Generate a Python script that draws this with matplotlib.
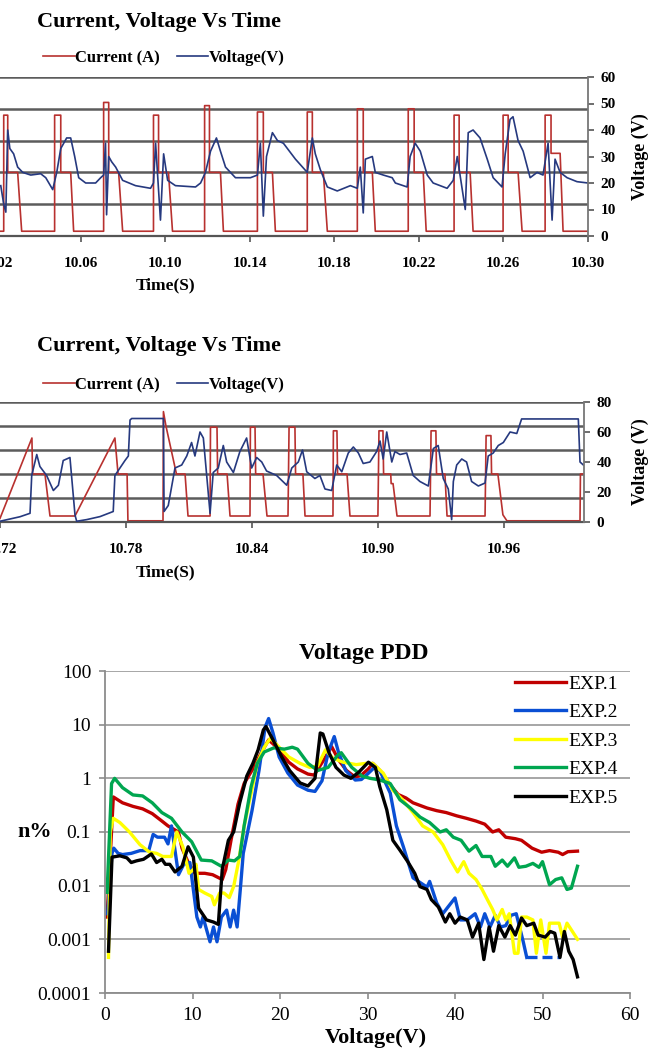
import numpy as np
import matplotlib.pyplot as plt
from matplotlib.lines import Line2D

plt.rcParams['font.family'] = ['Liberation Serif', 'DejaVu Serif']

W, H = 662, 1054
RED = '#b8312f'
NAVY = '#26397f'
GRID = '#5c5c5c'

# ---------- chart 1 : current / voltage, 10.02 - 10.30 s ----------
t1_ticks = [10.02, 10.06, 10.10, 10.14, 10.18, 10.22, 10.26, 10.30]
v1_ticks = [0, 10, 20, 30, 40, 50, 60]

# one row per current pulse
pulse1_on = [10.0236, 10.0477, 10.0709, 10.0945, 10.1187, 10.1437,
             10.1673, 10.1910, 10.2151, 10.2368, 10.2600, 10.2799]
pulse1_off = [10.0255, 10.0506, 10.0733, 10.0969, 10.1210, 10.1465,
              10.1697, 10.1938, 10.2179, 10.2392, 10.2624, 10.2827]
pulse1_plateau_end = [10.0302, 10.0553, 10.0780, 10.1016, 10.1262, 10.1508,
                      10.1749, 10.1981, 10.2222, 10.2444, 10.2671, 10.2870]
pulse1_tail_end = [10.0321, 10.0567, 10.0799, 10.1035, 10.1276, 10.1522,
                   10.1768, 10.1995, 10.2236, 10.2458, 10.2690, 10.2884]
pulse1_peak = [38, 38, 42, 38, 41, 39, 39, 40, 40, 38, 38, 38]
pulse1_plateau = [20, 20, 20, 20, 20, 20, 20, 20, 20, 20, 20, 26]
current1_base = 1.5
t1_start, t1_end = 10.0190, 10.3002

t1_volt = [10.0222, 10.0236, 10.0246, 10.0255, 10.0265, 10.0283, 10.0302, 10.0326,
           10.0364, 10.0411, 10.0435, 10.0468, 10.0487, 10.0506, 10.0534, 10.0553,
           10.0572, 10.0591, 10.0624, 10.0671, 10.0695, 10.0709, 10.0718, 10.0723,
           10.0733, 10.0747, 10.0766, 10.0799, 10.0860, 10.0931, 10.0945, 10.0955,
           10.0978, 10.0993, 10.1012, 10.1049, 10.1144, 10.1168, 10.1191, 10.1215,
           10.1243, 10.1262, 10.1286, 10.1333, 10.1404, 10.1437, 10.1451, 10.1465,
           10.1480, 10.1508, 10.1532, 10.1560, 10.1617, 10.1673, 10.1697, 10.1711,
           10.1735, 10.1768, 10.1815, 10.1877, 10.1910, 10.1924, 10.1938, 10.1948,
           10.1981, 10.1995, 10.2033, 10.2075, 10.2090, 10.2146, 10.2160, 10.2184,
           10.2208, 10.2241, 10.2269, 10.2335, 10.2364, 10.2383, 10.2421, 10.2435,
           10.2458, 10.2491, 10.2525, 10.2553, 10.2595, 10.2610, 10.2633, 10.2647,
           10.2671, 10.2695, 10.2728, 10.2761, 10.2789, 10.2813, 10.2832, 10.2846,
           10.2870, 10.2903, 10.2950, 10.3002]
v1_volt = [19, 12, 9, 40, 33, 31, 26, 24,
           23, 23.5, 22, 17.5, 24, 33, 37, 37,
           30, 22, 20, 20, 22, 23, 35, 8,
           30, 28, 26, 21, 19, 18, 20, 35,
           6, 31, 21, 19, 18.5, 20, 24, 32,
           37, 32, 26, 22, 22, 23, 35, 7.5,
           30, 39, 36, 35, 29, 24, 37, 31,
           25, 18.5, 17, 19, 18, 26, 8.7, 29,
           30, 24, 23, 22, 20, 18.5, 30, 35,
           32, 23, 20, 18, 21, 30, 10, 39,
           40, 37, 29, 22, 18.5, 31, 44, 45,
           36, 32, 22, 24, 23, 35, 6, 29,
           24, 22, 20.5, 20]

# ---------- chart 2 : current / voltage, 10.72 - 11.00 s ----------
t2_ticks = [10.72, 10.78, 10.84, 10.90, 10.96]
v2_ticks = [0, 20, 40, 60, 80]

t2_cur = [10.7200, 10.7352, 10.7355, 10.7414, 10.7438, 10.7557, 10.7747, 10.7762,
          10.7805, 10.7809, 10.7976, 10.7978, 10.7990, 10.8040, 10.8081, 10.8095,
          10.8200, 10.8202, 10.8233, 10.8236, 10.8281, 10.8295, 10.8390, 10.8392,
          10.8414, 10.8417, 10.8452, 10.8471, 10.8571, 10.8576, 10.8604, 10.8607,
          10.8642, 10.8652, 10.8785, 10.8787, 10.8804, 10.8807, 10.8852, 10.8866,
          10.8999, 10.9004, 10.9023, 10.9026, 10.9060, 10.9062, 10.9071, 10.9090,
          10.9247, 10.9252, 10.9275, 10.9278, 10.9318, 10.9328, 10.9509, 10.9514,
          10.9537, 10.9540, 10.9570, 10.9594, 10.9613, 10.9961, 10.9963, 10.9977]
i2_cur = [1.5, 35, 20, 20, 2.5, 2.5, 35, 20,
          20, 0.5, 0.5, 46, 40, 20, 20, 2.5,
          2.5, 39.5, 39.5, 20, 20, 2.5, 2.5, 39.5,
          39.5, 20, 20, 2.5, 2.5, 39.5, 39.5, 20,
          20, 2.5, 2.5, 38, 38, 20, 20, 2.5,
          2.5, 38, 38, 20, 20, 16, 16, 2.5,
          2.5, 38, 38, 20, 20, 2.5, 2.5, 36,
          36, 20, 20, 3, 0.5, 0.5, 20, 20]

t2_volt = [10.7200, 10.7295, 10.7343, 10.7351, 10.7375, 10.7390, 10.7422, 10.7454,
           10.7478, 10.7501, 10.7533, 10.7557, 10.7565, 10.7613, 10.7676, 10.7739,
           10.7747, 10.7771, 10.7795, 10.7811, 10.7819, 10.7827, 10.7978, 10.7981,
           10.8001, 10.8033, 10.8065, 10.8089, 10.8112, 10.8128, 10.8152, 10.8168,
           10.8200, 10.8215, 10.8239, 10.8263, 10.8279, 10.8311, 10.8342, 10.8374,
           10.8398, 10.8422, 10.8446, 10.8469, 10.8517, 10.8565, 10.8589, 10.8620,
           10.8640, 10.8660, 10.8699, 10.8723, 10.8747, 10.8779, 10.8803, 10.8827,
           10.8858, 10.8882, 10.8906, 10.8929, 10.8961, 10.8993, 10.9009, 10.9024,
           10.9041, 10.9065, 10.9080, 10.9104, 10.9136, 10.9167, 10.9199, 10.9239,
           10.9263, 10.9286, 10.9310, 10.9334, 10.9350, 10.9358, 10.9374, 10.9398,
           10.9421, 10.9445, 10.9477, 10.9509, 10.9524, 10.9548, 10.9572, 10.9596,
           10.9628, 10.9660, 10.9683, 10.9953, 10.9961, 10.9977]
v2_volt = [0.5, 3.5, 5.8, 31, 45, 37, 31, 21,
           24.5, 41, 43, 4.7, 0.5, 1.6, 3.6, 7,
           31, 36, 41, 44, 68, 69, 69, 7,
           11, 36, 38, 44, 53, 44, 60, 56,
           5.8, 33, 36, 51, 40, 33, 47, 56,
           36, 43, 40, 34, 31, 24.5, 36, 40,
           48, 33.5, 29, 31, 22, 21, 38, 33.5,
           46, 50, 46, 39, 40, 47, 54, 42,
           60, 40, 47, 45, 46, 31, 27, 24,
           49, 51, 29, 22, 1.6, 27, 38, 42,
           40, 27, 24, 26, 44, 46, 51, 53,
           60, 59, 68.7, 68.7, 40, 38]

# ---------- chart 3 : Voltage PDD ----------
pdd_labels = ['EXP.1', 'EXP.2', 'EXP.3', 'EXP.4', 'EXP.5']
pdd_colors = ['#c00000', '#0a4fd4', '#ffff00', '#00a650', '#000000']
pdd_yticks = [0.0001, 0.001, 0.01, 0.1, 1, 10, 100]
pdd_yticklabels = ['0.0001', '0.001', '0.01', '0.1', '1', '10', '100']

exp1_v = [0.24, 0.95, 2.0, 3.2, 4.3, 5.4, 6.5, 7.2, 8.4, 8.8, 9.6, 10.3, 11.4, 12.3, 13.4,
          13.8, 14.4, 15.2, 15.9, 17.0, 17.9, 18.7, 19.8, 21.0, 22.0, 23.2, 23.9, 25.0,
          25.9, 26.7, 27.6, 28.6, 29.3, 30.1, 30.6, 31.4, 32.6, 33.5, 34.4, 35.2, 36.8,
          37.9, 39.0, 40.2, 41.3, 42.4, 43.4, 44.3, 45.0, 45.8, 46.9, 47.6, 48.8, 49.9,
          50.8, 51.8, 52.3, 52.9, 54.0]
exp1_n = [0.0026, 0.45, 0.35, 0.3, 0.27, 0.22, 0.16, 0.13, 0.1, 0.05, 0.025, 0.017, 0.017,
          0.016, 0.013, 0.02, 0.07, 0.33, 0.8, 1.6, 3.1, 5.2, 3.6, 2.0, 1.5, 1.2, 1.15, 2.2,
          3.9, 2.2, 1.4, 1.05, 1.15, 1.5, 1.9, 1.4, 0.75, 0.5, 0.43, 0.35, 0.28, 0.25, 0.23,
          0.2, 0.18, 0.16, 0.14, 0.1, 0.11, 0.08, 0.075, 0.07, 0.05, 0.042, 0.045, 0.042,
          0.038, 0.043, 0.044]

exp2_v = [0.3, 0.8, 1, 1.5, 2, 3, 4, 5, 5.5, 6, 6.8, 7.2, 7.6, 8.4, 9, 9.7, 10.5, 10.9,
          11.2, 12, 12.4, 12.8, 13.3, 13.9, 14.3, 14.7, 15.1, 15.5, 15.8, 16.8, 17.6, 18.3,
          18.7, 19.2, 19.9, 20.9, 22, 23.2, 24, 24.8, 25.5, 26.2, 26.7, 27.5, 28.6, 29.3,
          30, 30.8, 31.4, 32.6, 33.3, 34.1, 35.2, 36.8, 37.1, 37.9, 38.6, 40, 40.6, 41.4,
          42.3, 42.9, 43.4, 44, 44.6, 45.2, 45.8, 46.4, 47, 47.8, 48.2]
exp2_n = [0.003, 0.04, 0.05, 0.04, 0.038, 0.04, 0.045, 0.045, 0.09, 0.08, 0.08, 0.06, 0.13,
          0.016, 0.025, 0.027, 0.0026, 0.0017, 0.0026, 0.0009, 0.0017, 0.0009, 0.0026,
          0.0035, 0.0017, 0.0035, 0.0017, 0.01, 0.04, 0.25, 1.4, 9, 13, 7, 2.5, 1.25, 0.75,
          0.6, 0.57, 0.9, 3, 6, 3, 1.4, 0.93, 0.95, 1.2, 1.6, 1.4, 0.53, 0.13, 0.053, 0.014,
          0.0094, 0.012, 0.0048, 0.003, 0.0059, 0.0023, 0.0023, 0.003, 0.0017, 0.003,
          0.0017, 0.0028, 0.0017, 0.0018, 0.0028, 0.003, 0.0009, 0.00046]
exp2_tail_v = [48.2, 52.0]
exp2_tail_n = [0.00046, 0.00046]

exp3_v = [0.4, 0.6, 0.95, 1.7, 2.8, 4.0, 5.1, 5.9, 6.6, 7.6, 8.2, 8.9, 9.6, 10.1, 10.4,
          10.7, 11.4, 12.2, 12.5, 13.1, 13.6, 14.2, 14.7, 15.3, 15.9, 16.7, 17.4, 18.2,
          18.9, 19.9, 21.0, 22.3, 23.4, 24.3, 25.2, 26.0, 27.2, 28.7, 29.8, 30.6, 31.8,
          32.9, 34.0, 35.2, 36.3, 37.5, 38.6, 39.5, 40.3, 41.0, 41.6, 42.4, 43.1, 43.7,
          44.3, 44.8, 45.4, 45.8, 46.2, 46.8, 47.2, 47.6, 48.2, 48.9, 49.3, 49.8, 50.4,
          50.8, 51.9, 52.3, 52.8, 54.0]
exp3_n = [0.00046, 0.1, 0.18, 0.15, 0.1, 0.058, 0.042, 0.04, 0.035, 0.035, 0.1, 0.053,
          0.017, 0.02, 0.025, 0.0085, 0.0073, 0.0063, 0.0044, 0.0073, 0.0073, 0.006, 0.0096,
          0.03, 0.13, 0.53, 1.9, 3.8, 5.6, 3.8, 2.5, 1.9, 1.6, 1.7, 3.4, 2.4, 2.0, 1.8, 1.9,
          1.9, 1.25, 0.6, 0.4, 0.23, 0.13, 0.1, 0.058, 0.03, 0.018, 0.028, 0.017, 0.013,
          0.0085, 0.0055, 0.0036, 0.0023, 0.0036, 0.0023, 0.003, 0.00055, 0.00055, 0.0026,
          0.0026, 0.0023, 0.00055, 0.0023, 0.00055, 0.002, 0.002, 0.0011, 0.002, 0.001]

exp4_v = [0.24, 0.75, 1.1, 2.0, 3.2, 4.3, 5.4, 6.5, 7.6, 8.8, 9.9, 11.0, 12.2, 13.3, 14.1,
          14.8, 15.4, 15.9, 16.7, 17.4, 18.2, 19.3, 20.5, 21.4, 22.0, 23.2, 24.3, 25.5,
          26.6, 27.0, 28.2, 29.4, 30.3, 31.4, 32.6, 33.7, 34.9, 36.0, 37.1, 38.3, 39.0,
          39.8, 40.7, 41.6, 42.4, 43.1, 44.1, 44.6, 45.4, 46.0, 46.8, 47.3, 48.1, 48.9,
          49.6, 50.0, 50.8, 51.5, 52.2, 52.8, 53.3, 54.0]
exp4_n = [0.0075, 0.8, 1.0, 0.67, 0.49, 0.47, 0.35, 0.23, 0.18, 0.1, 0.066, 0.03, 0.029,
          0.023, 0.03, 0.029, 0.035, 0.13, 0.7, 1.9, 3.1, 3.7, 3.5, 3.8, 3.5, 1.9, 1.4, 1.6,
          2.7, 3.0, 1.6, 1.1, 1.0, 0.93, 0.8, 0.4, 0.28, 0.19, 0.15, 0.1, 0.11, 0.08, 0.07,
          0.044, 0.056, 0.035, 0.035, 0.023, 0.03, 0.023, 0.033, 0.022, 0.023, 0.026, 0.022,
          0.028, 0.0104, 0.013, 0.014, 0.0085, 0.009, 0.023]

exp5_v = [0.4, 0.8, 1.7, 2.5, 3.0, 3.6, 4.4, 5.3, 5.9, 6.5, 6.9, 7.4, 8.0, 8.8, 9.5, 10.1,
          10.7, 11.6, 12.4, 12.95, 13.4, 14.1, 14.7, 15.4, 16.2, 16.9, 17.5, 18.1, 18.4,
          19.2, 20.2, 21.1, 22.3, 23.2, 24.0, 24.6, 24.9, 25.6, 26.4, 27.3, 28.1, 29.0,
          30.1, 30.9, 31.4, 32.2, 32.9, 33.7, 34.6, 35.4, 36.0, 36.8, 37.3, 38.1, 38.9,
          39.4, 40.0, 40.6, 41.4, 42.0, 42.7, 43.3, 43.9, 44.4, 45.0, 45.7, 46.3, 46.9,
          47.6, 48.2, 49.0, 49.5, 50.3, 50.9, 51.4, 52.0, 52.5, 53.0, 53.5, 54.0]
exp5_n = [0.0006, 0.034, 0.036, 0.033, 0.027, 0.029, 0.031, 0.039, 0.027, 0.031, 0.025,
          0.025, 0.018, 0.023, 0.053, 0.034, 0.0038, 0.0023, 0.0021, 0.0019, 0.02, 0.07,
          0.1, 0.35, 1.1, 1.9, 3.4, 8, 9.2, 5.2, 2.5, 1.4, 0.82, 0.72, 1.0, 7, 6.7, 3.0,
          1.6, 1.15, 1.0, 1.3, 2.0, 1.6, 0.7, 0.26, 0.07, 0.046, 0.028, 0.017, 0.0096,
          0.0085, 0.0055, 0.004, 0.0021, 0.003, 0.002, 0.0026, 0.0023, 0.0011, 0.002,
          0.00042, 0.0017, 0.0006, 0.0018, 0.0011, 0.0018, 0.0012, 0.0025, 0.0018, 0.002,
          0.0012, 0.0011, 0.0014, 0.0013, 0.00046, 0.0014, 0.0006, 0.00042, 0.0002]


def rect(x0, y0, x1, y1):
    # pixel box (top-left origin) -> figure fraction
    return [x0 / W, 1 - y1 / H, (x1 - x0) / W, (y1 - y0) / H]


def pulse_train(on, off, plat_end, tail_end, peak, plateau, base, t0, t1):
    t, i = [t0], [base]
    for k in range(len(on)):
        t += [on[k], on[k], off[k], off[k], plat_end[k], tail_end[k]]
        i += [base, peak[k], peak[k], plateau[k], plateau[k], base]
    t.append(t1)
    i.append(base)
    return t, i


fig = plt.figure(figsize=(W / 100, H / 100), dpi=100)


def time_panel(box, xlim, t_cur, i_cur, t_volt, v_volt, x_ticks, v_ticks, y_title, y_leg, y_xlab):
    ax = fig.add_axes(rect(*box))
    ax.plot(t_cur, i_cur, color=RED, lw=1.2)
    ax.set_xlim(xlim)
    ax.set_ylim(0, 50)
    ax.set_yticks([0, 10, 20, 30, 40, 50])
    ax.grid(axis='y', color=GRID, lw=1.8)
    ax.set_axisbelow(True)
    ax.tick_params(axis='y', left=False, labelleft=False)
    ax.set_xticks(x_ticks)
    ax.set_xticklabels(['%.2f' % t for t in x_ticks])
    ax.tick_params(axis='x', direction='out', length=4, width=1.2, color='#555555',
                   pad=11, labelsize=11)
    for lab in ax.get_xticklabels():
        lab.set_fontweight('bold')
    for s in ['top', 'left', 'right']:
        ax.spines[s].set_visible(False)
    ax.spines['bottom'].set_color('#555555')
    ax.spines['bottom'].set_linewidth(1.6)

    ax2 = ax.twinx()
    ax2.plot(t_volt, v_volt, color=NAVY, lw=1.2)
    ax2.set_ylim(0, v_ticks[-1])
    ax2.set_yticks(v_ticks)
    ax2.tick_params(axis='y', direction='out', length=4, width=1.2, color='#555555',
                    pad=5, labelsize=11)
    for lab in ax2.get_yticklabels():
        lab.set_fontweight('bold')
    for s in ['top', 'left', 'bottom']:
        ax2.spines[s].set_visible(False)
    ax2.spines['right'].set_color('#777777')
    ax2.spines['right'].set_linewidth(1.3)

    fig.text(159 / W, 1 - y_title / H, 'Current, Voltage Vs Time', ha='center', va='center',
             fontsize=16, fontweight='bold')
    handles = [Line2D([], [], color=RED, lw=1.2), Line2D([], [], color=NAVY, lw=1.2)]
    fig.legend(handles, ['Current (A)', 'Voltage(V)'], loc='center',
               bbox_to_anchor=(164 / W, 1 - y_leg / H), ncol=2, frameon=False,
               prop={'size': 12, 'weight': 'bold'}, handlelength=1.9, handletextpad=0.05,
               columnspacing=1.0)
    fig.text(166 / W, 1 - y_xlab / H, 'Time(S)', ha='center', va='center',
             fontsize=12.5, fontweight='bold')
    fig.text(640 / W, 1 - (box[1] + box[3]) / 2 / H, 'Voltage (V)', ha='center',
             va='center', rotation=90, fontsize=13, fontweight='bold')


t1_cur, i1_cur = pulse_train(pulse1_on, pulse1_off, pulse1_plateau_end, pulse1_tail_end,
                             pulse1_peak, pulse1_plateau, current1_base, t1_start, t1_end)
time_panel((-6, 77, 588, 236), (t1_start, t1_end), t1_cur, i1_cur, t1_volt, v1_volt,
           t1_ticks, v1_ticks, 22, 58, 285)
time_panel((-4, 402, 584, 522), (10.7181, 10.9980), t2_cur, i2_cur, t2_volt, v2_volt,
           t2_ticks, v2_ticks, 346, 385, 572)

# ---------- Voltage PDD ----------
ax3 = fig.add_axes(rect(105, 671, 630, 993))
series = [(exp1_v, exp1_n), (exp2_v, exp2_n), (exp3_v, exp3_n), (exp4_v, exp4_n), (exp5_v, exp5_n)]
for (v, n), c, lab in zip(series, pdd_colors, pdd_labels):
    ax3.plot(v, n, color=c, lw=2.4, label=lab)
    if lab == 'EXP.2':
        ax3.plot(exp2_tail_v, exp2_tail_n, color=c, lw=2.4, ls=(0, (3, 1.5)))
ax3.set_yscale('log')
ax3.set_ylim(1e-4, 100)
ax3.set_xlim(0, 60)
ax3.set_yticks(pdd_yticks)
ax3.set_yticklabels(pdd_yticklabels)
ax3.yaxis.set_minor_locator(plt.NullLocator())
ax3.set_xticks(range(0, 61, 10))
ax3.grid(axis='y', color='#a6a6a6', lw=1.4)
ax3.set_axisbelow(True)
ax3.tick_params(direction='out', length=4, width=1.2, color='#8c8c8c', labelsize=14)
ax3.tick_params(axis='y', pad=6)
ax3.tick_params(axis='x', pad=6)
for s in ['top', 'right']:
    ax3.spines[s].set_visible(False)
for s in ['left', 'bottom']:
    ax3.spines[s].set_color('#8c8c8c')
    ax3.spines[s].set_linewidth(1.3)
ax3.legend(loc='upper left', bbox_to_anchor=(515 / W, 1 - 675 / H),
           bbox_transform=fig.transFigure, frameon=False, fontsize=14,
           handlelength=2.6, handletextpad=0.15, labelspacing=0.56, borderpad=0,
           borderaxespad=0)
fig.text(364 / W, 1 - 653 / H, 'Voltage PDD', ha='center', va='center',
         fontsize=17, fontweight='bold')
fig.text(376 / W, 1 - 1038 / H, 'Voltage(V)', ha='center', va='center',
         fontsize=16, fontweight='bold')
fig.text(35 / W, 1 - 832 / H, 'n%', ha='center', va='center',
         fontsize=16, fontweight='bold')

fig.savefig('out.png', dpi=100)
